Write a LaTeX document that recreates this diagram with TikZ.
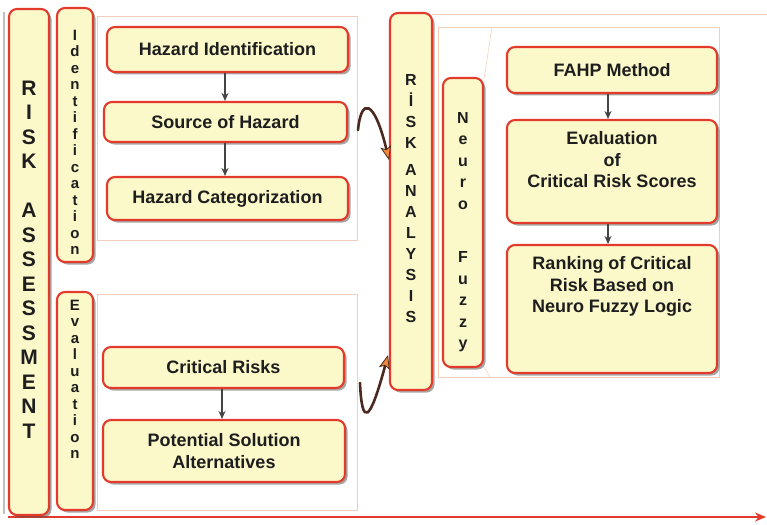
\documentclass[tikz,border=0pt]{standalone}
\usepackage{fontspec}
\setmainfont{Liberation Sans}
\usetikzlibrary{shadows,arrows.meta}
\definecolor{boxfill}{HTML}{FBF8C9}
\definecolor{boxline}{HTML}{E23B2C}
\definecolor{framecol}{HTML}{F4CDB8}
\definecolor{curvecol}{HTML}{4A2A1E}
\definecolor{tipcol}{HTML}{F08A3A}
\definecolor{txt}{HTML}{1E1E1E}
\definecolor{flowarrow}{HTML}{444444}
\begin{document}
\begin{tikzpicture}[x=1pt,y=-1pt,
  box/.style={draw=boxline, line width=2.1pt, fill=boxfill, rounded corners=8pt,
    drop shadow={shadow xshift=2.5pt, shadow yshift=-2.5pt, opacity=0.5, fill=black!70},
    text=txt, font=\bfseries\fontsize{18}{22}\selectfont, align=center, inner sep=0pt},
  boxtext/.style={text=txt, font=\bfseries\fontsize{18}{21.5}\selectfont, align=center, inner sep=0pt},
  biglet/.style={text=txt, font=\bfseries\fontsize{21}{24.5}\selectfont, align=center, inner sep=0pt, anchor=north},
  smalllet/.style={text=txt, font=\bfseries\fontsize{15}{16.5}\selectfont, align=center, inner sep=0pt, anchor=north},
  midlet/.style={text=txt, font=\bfseries\fontsize{16}{21.5}\selectfont, align=center, inner sep=0pt, anchor=north},
  frame/.style={draw=framecol, line width=0.8pt},
  flow/.style={draw=flowarrow, line width=1.1pt, -{Stealth[length=8pt,width=7pt]}},
  curvy/.style={draw=curvecol, line width=2.6pt, line cap=round, -{Stealth[length=14pt,width=11pt,inset=3pt,fill=tipcol,line width=0.8pt]}}
]
\useasboundingbox (0,0) rectangle (767,524);

% faint left edge
\draw[black!25, line width=1.5pt] (4,12) -- (4,514);

% frames
\draw[frame] (97,16) rectangle (357,240);
\draw[frame] (97,294) rectangle (357,510);
\draw[frame] (432,14) -- (767,14);
\draw[frame] (438,27) rectangle (719,377);
\draw[frame, draw=framecol!70] (492,27) -- (484,79);
\draw[frame, draw=framecol!70] (484,367) -- (490,377);

% bottom axis
\coordinate (axs) at (8,517);
\coordinate (axe) at (766,517);
\draw[boxline, line width=2.2pt, -{Stealth[length=11pt,width=9pt]}] (axs) -- (axe);

% RISK ASSESSMENT
\node[box, minimum width=40pt, minimum height=506pt] (rabox) at (29,262) {};
\node[biglet] (ratext) at (29,80.5) {R\\I\\S\\K\\[24.5pt]A\\S\\S\\E\\S\\S\\M\\E\\N\\T};

% Identification
\node[box, minimum width=36pt, minimum height=254pt] (idbox) at (75,135) {};
\node[smalllet] (idtext) at (75,29.5) {I\\d\\e\\n\\t\\i\\f\\i\\c\\a\\t\\i\\o\\n};

% Evaluation
\node[box, minimum width=36pt, minimum height=218pt] (evbox) at (75,401) {};
\node[smalllet] (evtext) at (75,299.5) {E\\v\\a\\l\\u\\a\\t\\i\\o\\n};

% Identification group
\node[box, minimum width=241pt, minimum height=45pt] (hazid) at (227.5,49.5) {Hazard Identification};
\node[box, minimum width=243pt, minimum height=40pt] (src) at (225.5,122) {Source of Hazard};
\node[box, minimum width=241pt, minimum height=43pt] (hazcat) at (227.5,198.5) {Hazard Categorization};
\draw[flow] (hazid.south -| 225,0) -- (src.north -| 225,0);
\draw[flow] (src.south -| 225,0) -- (hazcat.north -| 225,0);

% Evaluation group
\node[box, minimum width=241pt, minimum height=41pt] (crit) at (223.5,367.5) {Critical Risks};
\node[box, minimum width=242pt, minimum height=62pt] (pot) at (224,451) {Potential Solution\\Alternatives};
\draw[flow] (crit.south -| 222,0) -- (pot.north -| 222,0);

% RISK ANALYSIS
\node[box, minimum width=42pt, minimum height=377pt] (anbox) at (411,201.5) {};
\node[midlet, font=\bfseries\fontsize{16}{21}\selectfont] (antext) at (411,74) {R\\İ\\S\\K\\[6pt]A\\N\\A\\L\\Y\\S\\I\\S};

% Neuro Fuzzy
\node[box, minimum width=40pt, minimum height=289pt] (nfbox) at (463,222.5) {};
\node[midlet] (nftext) at (463,112) {N\\e\\u\\r\\o\\[32pt]F\\u\\z\\z\\y};

% right column
\node[box, minimum width=210pt, minimum height=46pt] (fahp) at (612,70) {FAHP Method};
\node[box, minimum width=210pt, minimum height=103pt] (evalbox) at (612,171.5) {};
\node[boxtext, anchor=north] (evaltext) at (612,131.5) {Evaluation\\of\\Critical Risk Scores};
\node[box, minimum width=210pt, minimum height=128pt] (rank) at (612,309) {};
\node[boxtext, anchor=north] (ranktext) at (612,256.5) {Ranking of Critical\\Risk Based on\\Neuro Fuzzy Logic};
\draw[flow] (fahp.south -| 608,0) -- (evalbox.north -| 608,0);
\draw[flow] (evalbox.south -| 608,0) -- (rank.north -| 608,0);

% curved arrows
\coordinate (c1s) at (358,130);
\coordinate (c1e) at (389,160);
\draw[curvy] (c1s) .. controls (361,98) and (374,98) .. (c1e);
\coordinate (c2s) at (360,383);
\coordinate (c2e) at (388,355);
\draw[curvy] (c2s) .. controls (362,428) and (370,422) .. (c2e);
\end{tikzpicture}
\end{document}
